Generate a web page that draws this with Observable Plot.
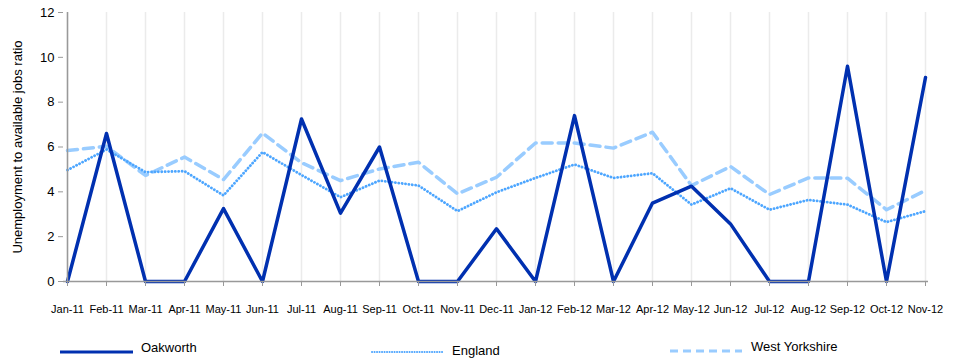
<!DOCTYPE html>
<html><head><meta charset="utf-8">
<script src="https://cdn.jsdelivr.net/npm/d3@7"></script>
<script src="https://cdn.jsdelivr.net/npm/@observablehq/plot@0.6"></script>
<style>
body{margin:0;background:#fff;font-family:"Liberation Sans",Arial,sans-serif;}
#wrap{position:relative;width:953px;height:358px;overflow:hidden;}
#legend{position:absolute;left:0;top:330px;width:953px;height:28px;}
.li{position:absolute;font-size:13px;color:#000;line-height:13px;}
</style></head>
<body>
<div id="wrap"><div id="chart"></div><div id="legend"></div></div>
<script>
const months = ["Jan-11","Feb-11","Mar-11","Apr-11","May-11","Jun-11","Jul-11","Aug-11","Sep-11","Oct-11","Nov-11","Dec-11",
  "Jan-12","Feb-12","Mar-12","Apr-12","May-12","Jun-12","Jul-12","Aug-12","Sep-12","Oct-12","Nov-12"];
const oakworth = [0,6.6,0,0,3.25,0,7.25,3.05,6.0,0,0,2.35,0,7.4,0,3.5,4.25,2.57,0,0,9.6,0,9.1];
const england = [4.97,5.89,4.88,4.92,3.84,5.77,4.75,3.76,4.5,4.28,3.14,3.98,4.62,5.22,4.62,4.83,3.43,4.16,3.2,3.64,3.43,2.65,3.14];
const westYorkshire = [5.84,6.03,4.73,5.55,4.55,6.62,5.3,4.5,5.02,5.32,3.91,4.65,6.18,6.18,5.95,6.66,4.28,5.13,3.88,4.62,4.61,3.2,4.06];
const yTicks = [0,2,4,6,8,10,12];
const seriesNames = ["Oakworth","England","West Yorkshire"];

const toRows = (vals, s) => vals.map((v,i) => ({m: months[i], v, s}));
const oakRows = toRows(oakworth, seriesNames[0]);
const engRows = toRows(england, seriesNames[1]);
const wyRows = toRows(westYorkshire, seriesNames[2]);

const chart = Plot.plot({
  width: 953, height: 330,
  marginLeft: 63, marginRight: 25, marginTop: 12, marginBottom: 49,
  style: {fontFamily: "Liberation Sans, Arial, sans-serif", background: "#fff", color: "#000", overflow: "visible"},
  x: {type: "point", domain: months, padding: 0},
  y: {domain: [0, 12]},
  marks: [
    Plot.ruleX(months, {stroke: "#ebebeb", strokeWidth: 1.5}),
    Plot.lineY(wyRows, {x: "m", y: "v", stroke: "#99ccff", strokeWidth: 3.5, strokeDasharray: "10,6"}),
    Plot.lineY(engRows, {x: "m", y: "v", stroke: "#4da6ff", strokeWidth: 2.8, strokeDasharray: "0.1,3.3", strokeLinecap: "round"}),
    Plot.lineY(oakRows, {x: "m", y: "v", stroke: "#0030b0", strokeWidth: 3.5}),
    Plot.ruleY([0], {stroke: "#999", strokeWidth: 1.5}),
    Plot.ruleX([months[0]], {stroke: "#999", strokeWidth: 1.5}),
    Plot.axisX({ticks: months, tickSize: 5, tickPadding: 19, stroke: "#999", fontSize: 11, label: null, fill: "#000"}),
    Plot.axisY({ticks: yTicks, tickSize: 5, tickPadding: 4, stroke: "#999", fontSize: 13, fill: "#000",
      label: "Unemployment to available jobs ratio", labelAnchor: "center", labelArrow: "none", labelOffset: 51})
  ]
});
document.getElementById("chart").appendChild(chart);

const legend = document.getElementById("legend");
const items = [
  {name: seriesNames[0], x1: 60, x2: 133, ly: 22, tx: 141, ty: 11, stroke: "#0030b0", w: 3, dash: null, cap: "butt"},
  {name: seriesNames[1], x1: 372, x2: 444, ly: 22, tx: 452, ty: 14, stroke: "#4da6ff", w: 2, dash: "0.1,2.4", cap: "round"},
  {name: seriesNames[2], x1: 670, x2: 742, ly: 21, tx: 751, ty: 10, stroke: "#99ccff", w: 3, dash: "8,5", cap: "butt"}
];
const svgNS = "http://www.w3.org/2000/svg";
const lsvg = document.createElementNS(svgNS, "svg");
lsvg.setAttribute("width", 953); lsvg.setAttribute("height", 28);
lsvg.style.position = "absolute"; lsvg.style.left = "0"; lsvg.style.top = "0";
items.forEach(it => {
  const l = document.createElementNS(svgNS, "line");
  l.setAttribute("x1", it.x1); l.setAttribute("x2", it.x2);
  l.setAttribute("y1", it.ly); l.setAttribute("y2", it.ly);
  l.setAttribute("stroke", it.stroke); l.setAttribute("stroke-width", it.w);
  l.setAttribute("stroke-linecap", it.cap);
  if (it.dash) l.setAttribute("stroke-dasharray", it.dash);
  lsvg.appendChild(l);
});
legend.appendChild(lsvg);
items.forEach(it => {
  const s = document.createElement("span");
  s.className = "li"; s.textContent = it.name;
  s.style.left = it.tx + "px"; s.style.top = it.ty + "px";
  legend.appendChild(s);
});
</script>
</body></html>
